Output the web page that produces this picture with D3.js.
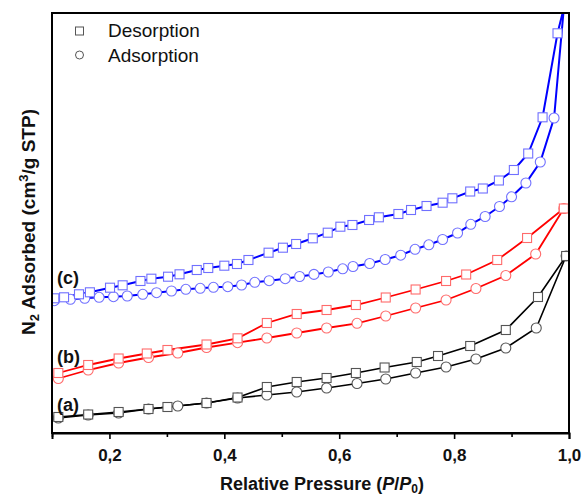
<!DOCTYPE html>
<html><head><meta charset="utf-8">
<script src="https://cdn.jsdelivr.net/npm/d3@7"></script>
<style>body{margin:0;background:#fff}svg{display:block}</style>
</head><body>
<svg id="chart" width="584" height="495"></svg>
<script>
// ---- data (relative pressure, adsorbed amount in arbitrary units) ----
const xTicks = [0.2, 0.4, 0.6, 0.8, 1.0];
const xTickLabels = ["0,2", "0,4", "0,6", "0,8", "1,0"];
const xMinorTicks = [0.1, 0.3, 0.5, 0.7, 0.9];
const seriesLabels = ["(a)", "(b)", "(c)"];
const legendLabels = ["Desorption", "Adsorption"];

const aAdsX = [0.111,0.163,0.216,0.268,0.319,0.369,0.423,0.474,0.526,0.578,0.631,0.681,0.733,0.786,0.838,0.890,0.943,0.995];
const aAdsY = [15,18,20,24,27,30,35,38,41,45,49.5,54,60,66,74,85,105,177];
const aDesX = [0.995,0.946,0.890,0.828,0.772,0.735,0.679,0.629,0.578,0.526,0.474,0.423,0.369,0.301,0.268,0.216,0.163,0.111];
const aDesY = [177,136,103,87,77,71,65.5,60,55,51,46,35.5,30,26,24,21,18.5,16];

const bAdsX = [0.111,0.163,0.216,0.268,0.319,0.369,0.423,0.474,0.526,0.578,0.631,0.681,0.733,0.786,0.838,0.890,0.942,0.991];
const bAdsY = [54.5,63,70,75.5,80,85.5,90.3,95,100,105,109.7,117,125,133,144.5,157.5,179,224.5];
const bDesX = [0.991,0.927,0.875,0.821,0.786,0.733,0.681,0.629,0.578,0.526,0.474,0.423,0.369,0.301,0.265,0.216,0.163,0.111];
const bDesY = [224.5,195,173,158.5,152,143.5,135.5,128,123,119,110,94.7,88.5,83,79.5,74.5,68,60];

const cAdsX = [0.104,0.132,0.157,0.182,0.207,0.231,0.258,0.282,0.308,0.333,0.358,0.381,0.406,0.430,0.453,0.478,0.506,0.531,0.556,0.581,0.606,0.624,0.653,0.680,0.707,0.732,0.756,0.780,0.806,0.829,0.854,0.879,0.900,0.925,0.950,0.974,0.991];
const cAdsY = [132.3,133.7,134.7,135.7,136.3,137,138.7,140.3,142,143.7,144.7,145.7,146.3,148,150.7,152.3,154.3,156.5,158.6,161,164.2,166.5,169.5,173.5,177.8,183.7,188.2,193.5,200,208.7,216.5,226.5,236.2,250,271,315,425];
const cDesX = [0.991,0.980,0.954,0.929,0.904,0.878,0.850,0.828,0.797,0.780,0.752,0.725,0.703,0.669,0.652,0.623,0.602,0.580,0.554,0.525,0.502,0.477,0.442,0.422,0.400,0.372,0.352,0.322,0.302,0.273,0.254,0.223,0.201,0.166,0.147,0.121,0.104];
const cDesY = [425,399.7,315.7,279.5,263,252.5,244.5,241.5,234.7,230.3,227,223,219,215.7,213,208,206.3,200.3,194.7,189,185.3,180.3,173,169,167.3,165,163,158.7,156.3,154.3,152,147.7,145.3,140.7,138.7,135.7,134.7];

// ---- layout ----
const svg = d3.select("#chart");
const L = 52, R = 569, T = 13, B = 433;
const x = d3.scaleLinear().domain([0.1, 1.0]).range([L, R]);
const y = d3.scaleLinear().domain([0, 420]).range([B, T]);
const font = "'Liberation Sans', Arial, Helvetica, sans-serif";

svg.append("defs").append("clipPath").attr("id", "clip")
  .append("rect").attr("x", L).attr("y", T).attr("width", R - L).attr("height", B - T);

const series = [
  {ads: [aAdsX, aAdsY], des: [aDesX, aDesY], line: "#000000", mark: "#555555", lw: 1.6},
  {ads: [bAdsX, bAdsY], des: [bDesX, bDesY], line: "#ff0000", mark: "#ff6b6b", lw: 1.8},
  {ads: [cAdsX, cAdsY], des: [cDesX, cDesY], line: "#0000ff", mark: "#7070ff", lw: 2.0}
];

const plot = svg.append("g").attr("clip-path", "url(#clip)");
const line = d3.line().x(d => x(d[0])).y(d => y(d[1]));
const pts = arr => arr[0].map((v, i) => [v, arr[1][i]]);

series.forEach(s => {
  plot.append("path").datum(pts(s.des)).attr("d", line)
    .attr("fill", "none").attr("stroke", s.line).attr("stroke-width", s.lw);
  plot.append("path").datum(pts(s.ads)).attr("d", line)
    .attr("fill", "none").attr("stroke", s.line).attr("stroke-width", s.lw);
});
series.forEach(s => {
  plot.selectAll(null).data(pts(s.ads)).enter().append("circle")
    .attr("cx", d => x(d[0])).attr("cy", d => y(d[1])).attr("r", 5)
    .attr("fill", "#fff").attr("stroke", s.mark).attr("stroke-width", 1.1);
  plot.selectAll(null).data(pts(s.des)).enter().append("rect")
    .attr("x", d => x(d[0]) - 4.5).attr("y", d => y(d[1]) - 4.5)
    .attr("width", 9).attr("height", 9)
    .attr("fill", "#fff").attr("stroke", s.mark).attr("stroke-width", 1.1);
});

// ---- frame & axis ----
svg.append("rect").attr("x", L).attr("y", T).attr("width", R - L).attr("height", B - T)
  .attr("fill", "none").attr("stroke", "#000").attr("stroke-width", 2);

const xAxis = d3.axisBottom(x).tickValues(xTicks).tickSize(6)
  .tickFormat((d, i) => xTickLabels[i]);
const gx = svg.append("g").attr("transform", `translate(0,${B})`).call(xAxis);
gx.select(".domain").attr("stroke-width", 2);
gx.selectAll(".tick line").attr("stroke-width", 1.6);
gx.selectAll(".tick text").attr("font-family", font).attr("font-size", 17)
  .attr("font-weight", "bold").attr("fill", "#111").attr("y", 16).attr("dy", "0.71em");
const gm = svg.append("g").attr("transform", `translate(0,${B})`)
  .call(d3.axisBottom(x).tickValues(xMinorTicks).tickSize(4).tickFormat(""));
gm.select(".domain").remove();
gm.selectAll(".tick line").attr("stroke-width", 1.6);

// ---- titles ----
svg.append("text").attr("x", 322).attr("y", 490).attr("text-anchor", "middle")
  .attr("font-family", font).attr("font-size", 18).attr("font-weight", "bold").attr("fill", "#111")
  .call(t => {
    t.append("tspan").text("Relative Pressure (");
    t.append("tspan").attr("font-style", "italic").text("P");
    t.append("tspan").text("/");
    t.append("tspan").attr("font-style", "italic").text("P");
    t.append("tspan").attr("font-size", 12).attr("dy", 3).text("0");
    t.append("tspan").attr("dy", -3).text(")");
  });

svg.append("text").attr("transform", "translate(35,222) rotate(-90)").attr("text-anchor", "middle")
  .attr("font-family", font).attr("font-size", 19).attr("font-weight", "bold").attr("fill", "#111")
  .call(t => {
    t.append("tspan").text("N");
    t.append("tspan").attr("font-size", 13).attr("dy", 4).text("2");
    t.append("tspan").attr("dy", -4).text(" Adsorbed (cm");
    t.append("tspan").attr("font-size", 13).attr("dy", -7).text("3");
    t.append("tspan").attr("dy", 7).text("/g STP)");
  });

// ---- series labels ----
const labelBaseline = [411, 363, 284];
seriesLabels.forEach((lab, i) => {
  svg.append("text").attr("x", 57).attr("y", labelBaseline[i])
    .attr("font-family", font).attr("font-size", 18).attr("font-weight", "bold").attr("fill", "#111")
    .text(lab);
});

// ---- legend ----
const lg = svg.append("g");
lg.append("rect").attr("x", 75.5).attr("y", 27).attr("width", 8).attr("height", 8)
  .attr("fill", "#fff").attr("stroke", "#555").attr("stroke-width", 1);
lg.append("circle").attr("cx", 79.5).attr("cy", 55).attr("r", 4)
  .attr("fill", "#fff").attr("stroke", "#555").attr("stroke-width", 1);
legendLabels.forEach((t, i) => {
  lg.append("text").attr("x", 108).attr("y", 37 + i * 25)
    .attr("font-family", font).attr("font-size", 19).attr("fill", "#111").text(t);
});
</script>
</body></html>
